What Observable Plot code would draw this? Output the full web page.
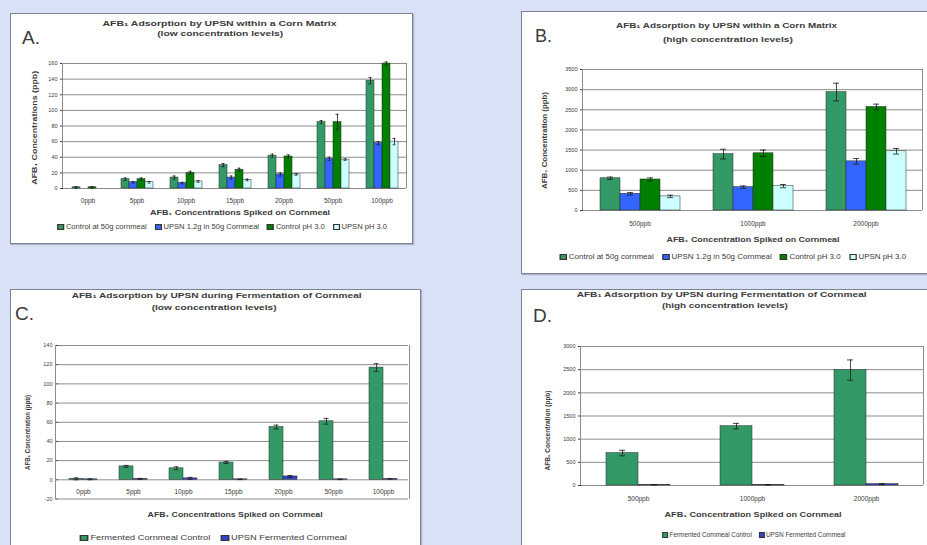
<!DOCTYPE html>
<html><head><meta charset="utf-8">
<script src="https://cdn.jsdelivr.net/npm/d3@7"></script>
<script src="https://cdn.jsdelivr.net/npm/@observablehq/plot@0.6"></script>
<style>
html,body{margin:0;padding:0;}
body{width:927px;height:545px;overflow:hidden;background:#d9e1f6;position:relative;font-family:"Liberation Sans",Arial,sans-serif;color:#3a3a3a;}
.panel{position:absolute;background:#fff;border:1px solid #7c8396;box-sizing:border-box;box-shadow:1px 1px 1px rgba(80,90,120,0.35);}
.plot{position:absolute;}
.lbl{position:absolute;white-space:nowrap;line-height:1;color:#3a3a3a;}
.frame{position:absolute;border-left:1px solid #8c8c8c;border-right:1px solid #8c8c8c;box-sizing:border-box;pointer-events:none;}
.legend{position:absolute;white-space:nowrap;display:flex;align-items:center;line-height:1;color:#3a3a3a;}
.item{display:flex;align-items:center;margin-right:7px;}
.sw{display:inline-block;width:4px;height:4px;border:0.6px solid #333;margin-right:1.5px;}
</style></head><body>
<script>
// ---------- data ----------
const catsLow = ["0ppb","5ppb","10ppb","15ppb","20ppb","50ppb","100ppb"];
const catsHigh = ["500ppb","1000ppb","2000ppb"];
const seriesAB = ["Control at 50g cornmeal","UPSN 1.2g in 50g Cornmeal","Control pH 3.0","UPSN pH 3.0"];
const seriesCD = ["Fermented Cornmeal Control","UPSN Fermented Cornmeal"];
const colorsAB = ["#339966","#3366ff","#008000","#ccffff"];
const colorsCD = ["#339966","#3344cc"];

const ticksA = [0,20,40,60,80,100,120,140,160];
const ticksB = [0,500,1000,1500,2000,2500,3000,3500];
const ticksC = [-20,0,20,40,60,80,100,120,140];
const ticksD = [0,500,1000,1500,2000,2500,3000];

// Panel A (low concentrations, corn matrix)
const aControl   = [1.5, 12, 14, 30, 42, 85, 138];
const aUpsn      = [0, 8, 7, 14, 18, 38, 58];
const aControlPh = [1.5, 12, 20, 24, 41, 85, 160];
const aUpsnPh    = [0, 8, 9, 11, 18, 37, 60];
const aControlErr   = [1, 1.5, 2, 2, 2, 2, 4];
const aUpsnErr      = [0, 1, 1, 2, 2, 2, 2];
const aControlPhErr = [1, 1.5, 2, 2, 2, 10, 2];
const aUpsnPhErr    = [0, 1, 1, 1, 1, 1, 4];

// Panel B (high concentrations, corn matrix)
const bControl   = [800, 1400, 2940];
const bUpsn      = [415, 580, 1220];
const bControlPh = [770, 1420, 2570];
const bUpsnPh    = [350, 605, 1470];
const bControlErr   = [30, 120, 220];
const bUpsnErr      = [30, 30, 70];
const bControlPhErr = [40, 80, 70];
const bUpsnPhErr    = [30, 40, 70];

// Panel C (low concentrations, fermentation)
const cControl = [1, 14, 12, 18, 55, 61, 117];
const cUpsn    = [0.5, 1, 1.5, 0.5, 3.5, 0.5, 1];
const cControlErr = [1, 1, 1.5, 1, 2, 3, 4];
const cUpsnErr    = [0.5, 0.5, 1, 0.3, 1, 0.3, 0.3];

// Panel D (high concentrations, fermentation)
const dControl = [700, 1280, 2490];
const dUpsn    = [15, 15, 30];
const dControlErr = [60, 60, 220];
const dUpsnErr    = [5, 5, 10];

function rows(cats, series, vals, errs) {
  return cats.flatMap((c, i) => series.map((s, j) => ({cat: c, series: s, value: vals[j][i], err: errs[j][i]})));
}
const dataA = rows(catsLow, seriesAB, [aControl, aUpsn, aControlPh, aUpsnPh], [aControlErr, aUpsnErr, aControlPhErr, aUpsnPhErr]);
const dataB = rows(catsHigh, seriesAB, [bControl, bUpsn, bControlPh, bUpsnPh], [bControlErr, bUpsnErr, bControlPhErr, bUpsnPhErr]);
const dataC = rows(catsLow, seriesCD, [cControl, cUpsn], [cControlErr, cUpsnErr]);
const dataD = rows(catsHigh, seriesCD, [dControl, dUpsn], [dControlErr, dUpsnErr]);

// ---------- helpers ----------
const FONT = "Liberation Sans, Arial, sans-serif";
function box(cls, l, t, w, h) {
  const d = document.createElement("div");
  d.className = cls;
  Object.assign(d.style, {left: l + "px", top: t + "px", width: w + "px", height: h + "px"});
  document.body.appendChild(d);
  return d;
}
function fit(el, cx, cy, w, rot) {
  document.body.appendChild(el);
  const r = el.getBoundingClientRect();
  const s = w ? w / r.width : 1;
  el.style.left = (cx - r.width / 2) + "px";
  el.style.top = (cy - r.height / 2) + "px";
  el.style.transform = (rot ? "rotate(-90deg) " : "") + "scaleX(" + s + ")";
}
function label(t, o) {
  const d = document.createElement("div");
  d.className = "lbl";
  d.textContent = t;
  d.style.fontSize = o.size + "px";
  d.style.fontWeight = o.bold ? "bold" : "normal";
  if (o.left != null) {
    document.body.appendChild(d);
    const r = d.getBoundingClientRect();
    d.style.left = o.left + "px";
    d.style.top = (o.y - r.height / 2) + "px";
  } else fit(d, o.x, o.y, o.w, o.rot);
}
function legend(series, colors, o) {
  const d = document.createElement("div");
  d.className = "legend";
  d.style.fontSize = o.size + "px";
  series.forEach((s, i) => {
    const it = document.createElement("span");
    it.className = "item";
    const sw = document.createElement("span");
    sw.className = "sw";
    sw.style.background = colors[i];
    it.appendChild(sw);
    it.appendChild(document.createTextNode(s));
    d.appendChild(it);
  });
  fit(d, o.x, o.y, o.w);
}
function chart(o) {
  const [L, T, W, H] = o.svg;
  const [mt, mr, mb, ml] = o.m;
  const bars = o.data.filter(d => d.value > 0);
  const errs = o.data.filter(d => d.err > 0);
  const marks = [
    Plot.gridY(o.ticks, {stroke: "#8c8c8c", strokeOpacity: 1, strokeWidth: 1}),
    Plot.barY(bars, {fx: "cat", x: "series", y: "value", fill: "series", stroke: "#2a2a2a", strokeWidth: 0.5}),
    Plot.ruleX(errs, {fx: "cat", x: "series", y1: d => d.value - d.err, y2: d => d.value + d.err, stroke: "#1a1a1a", strokeWidth: 0.8}),
    Plot.tickY(errs, {fx: "cat", x: "series", y: d => d.value + d.err, stroke: "#1a1a1a", strokeWidth: 0.8, inset: o.cap}),
    Plot.tickY(errs, {fx: "cat", x: "series", y: d => d.value - d.err, stroke: "#1a1a1a", strokeWidth: 0.8, inset: o.cap})
  ];
  if (o.inAxis) marks.push(Plot.text(o.cats, {fx: d => d, y: () => 0, text: d => d, dy: o.tickPad, fontSize: o.fxSize, fill: "#3a3a3a"}));
  const svg = Plot.plot({
    width: W, height: H,
    marginTop: mt, marginRight: mr, marginBottom: mb, marginLeft: ml,
    style: {background: "transparent", overflow: "visible", fontFamily: FONT, fontSize: o.fxSize + "px", color: "#3a3a3a"},
    fx: {domain: o.cats, padding: 0, label: null, axis: o.inAxis ? null : "bottom", tickSize: 0, tickPadding: o.tickPad},
    x: {domain: o.series, axis: null, paddingInner: 0, paddingOuter: 0.75},
    y: {domain: o.domain, ticks: o.ticks, tickFormat: d => String(d), tickSize: 3, tickPadding: 3, label: null},
    color: {domain: o.series, range: o.colors},
    marks
  });
  svg.querySelectorAll('g[aria-label^="y-axis"] text').forEach(t => t.setAttribute("font-size", o.ySize));
  svg.querySelectorAll('g[aria-label^="y-axis"]').forEach(g => g.setAttribute("font-size", o.ySize));
  svg.classList.add("plot");
  Object.assign(svg.style, {position: "absolute", left: L + "px", top: T + "px"});
  document.body.appendChild(svg);
  box("frame", L + ml, T + mt, W - ml - mr, H - mt - mb);
}

// ---------- panels ----------
box("panel", 10, 13, 403, 231);
box("panel", 521, 11, 412, 263);
box("panel", 10, 289, 411, 270);
box("panel", 521, 289, 412, 270);

// A
chart({cats: catsLow, series: seriesAB, colors: colorsAB, data: dataA, ticks: ticksA, domain: [0, 160],
  svg: [10, 13, 403, 231], m: [50, 6, 56, 52], cap: 2.5, fxSize: 6.5, ySize: 5.5, tickPad: 9.5});
label("A.", {left: 22, y: 37, size: 19});
label("AFB₁ Adsorption by UPSN within a Corn Matrix", {x: 220, y: 24, w: 234, size: 8, bold: true});
label("(low concentration levels)", {x: 220, y: 33.5, w: 126, size: 8, bold: true});
label("AFB₁ Concentrations (ppb)", {x: 35, y: 128, w: 114, size: 7.5, bold: true, rot: true});
label("AFB₁ Concentrations Spiked on Cornmeal", {x: 240, y: 213, w: 180, size: 7.5, bold: true});
legend(seriesAB, colorsAB, {x: 226, y: 227, w: 338, size: 6.5});

// B
chart({cats: catsHigh, series: seriesAB, colors: colorsAB, data: dataB, ticks: ticksB, domain: [0, 3500],
  svg: [521, 11, 406, 263], m: [58, 4, 64, 61], cap: 7, fxSize: 6.5, ySize: 5.5, tickPad: 10.5});
label("B.", {left: 535, y: 36, size: 18});
label("AFB₁ Adsorption by UPSN within a Corn Matrix", {x: 727, y: 26, w: 221, size: 8, bold: true});
label("(high concentration levels)", {x: 728, y: 40, w: 130, size: 8, bold: true});
label("AFB₁ Concentration (ppb)", {x: 544, y: 140, w: 97, size: 7, bold: true, rot: true});
label("AFB₁ Concentration Spiked on Cornmeal", {x: 753, y: 240, w: 173, size: 7.5, bold: true});
legend(seriesAB, colorsAB, {x: 737, y: 257, w: 355, size: 6.5});

// C
chart({cats: catsLow, series: seriesCD, colors: colorsCD, data: dataC, ticks: ticksC, domain: [-20, 140],
  svg: [10, 289, 411, 256], m: [56, 11, 46.5, 45], cap: 4.5, fxSize: 6.5, ySize: 5.5, tickPad: 12, inAxis: true});
label("C.", {left: 15, y: 313, size: 19});
label("AFB₁ Adsorption by UPSN during Fermentation of Cornmeal", {x: 217, y: 296, w: 290, size: 8, bold: true});
label("(low concentration levels)", {x: 214, y: 308, w: 125, size: 8, bold: true});
label("AFB₁ Concentration (ppb)", {x: 27, y: 432, w: 75, size: 7, bold: true, rot: true});
label("AFB₁ Concentrations Spiked on Cornmeal", {x: 235, y: 515, w: 175, size: 7.5, bold: true});
legend(seriesCD, colorsCD, {x: 218, y: 538, w: 277, size: 6.5});

// D
chart({cats: catsHigh, series: seriesCD, colors: colorsCD, data: dataD, ticks: ticksD, domain: [0, 3000],
  svg: [521, 289, 406, 256], m: [57, 3, 60, 59], cap: 13, fxSize: 6.5, ySize: 5.5, tickPad: 10.5});
label("D.", {left: 533, y: 315, size: 19});
label("AFB₁ Adsorption by UPSN during Fermentation of Cornmeal", {x: 722, y: 295, w: 290, size: 8, bold: true});
label("(high concentration levels)", {x: 725, y: 305.5, w: 126, size: 8, bold: true});
label("AFB₁ Concentration (ppb)", {x: 547, y: 430, w: 80, size: 7, bold: true, rot: true});
label("AFB₁ Concentration Spiked on Cornmeal", {x: 753, y: 515, w: 177, size: 7.5, bold: true});
legend(seriesCD, colorsCD, {x: 757, y: 535, w: 190, size: 6.5});
</script></body></html>
